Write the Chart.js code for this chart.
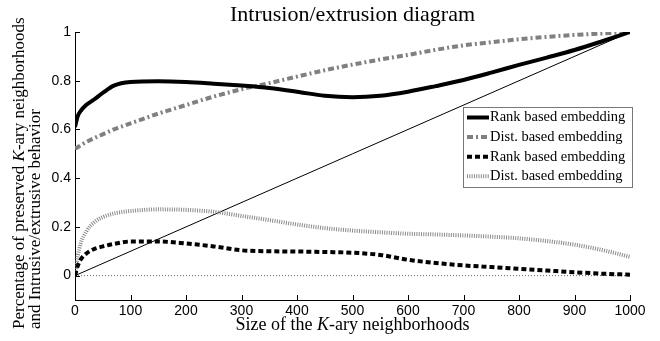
<!DOCTYPE html>
<html>
<head>
<meta charset="utf-8">
<title>Intrusion/extrusion diagram</title>
<script src="https://cdn.jsdelivr.net/npm/chart.js"></script>
<style>
  html, body { margin: 0; padding: 0; background: #fff; }
  #wrap { width: 660px; height: 341px; }
</style>
</head>
<body>
<div id="wrap"><canvas id="chart" width="660" height="341"></canvas></div>
<script>
  const kSizes = [0, 5, 10, 20, 35, 50, 70, 100, 150, 200, 250, 300, 350, 400, 450, 500,
                  550, 600, 650, 700, 750, 800, 850, 900, 950, 1000];
  // preserved neighbourhoods
  const rankPreserved = [0.61, 0.655, 0.675, 0.7, 0.724, 0.75, 0.78, 0.795, 0.798, 0.795, 0.788, 0.78, 0.77,
                         0.755, 0.738, 0.732, 0.738, 0.755, 0.778, 0.803, 0.833, 0.865, 0.895, 0.926, 0.962, 1.0];
  const distPreserved = [0.522, 0.527, 0.535, 0.548, 0.565, 0.58, 0.60, 0.625, 0.665, 0.70, 0.735, 0.765, 0.79,
                         0.817, 0.843, 0.866, 0.887, 0.906, 0.927, 0.945, 0.958, 0.97, 0.98, 0.988, 0.994, 1.0];
  // intrusive/extrusive behaviour
  const rankIntrusive = [0, 0.04, 0.065, 0.09, 0.11, 0.12, 0.13, 0.14, 0.14, 0.132, 0.12, 0.104, 0.1,
                         0.099, 0.097, 0.094, 0.085, 0.065, 0.052, 0.042, 0.035, 0.028, 0.021, 0.014, 0.008, 0.004];
  const distIntrusive = [0, 0.08, 0.13, 0.18, 0.22, 0.24, 0.255, 0.265, 0.272, 0.27, 0.262, 0.245, 0.228,
                         0.21, 0.195, 0.185, 0.178, 0.172, 0.169, 0.165, 0.16, 0.153, 0.142, 0.127, 0.105, 0.077];
  // reference lines: random baseline and zero
  const refX = [0, 1000];
  const diagY = [0, 1];
  const zeroY = [0, 0];

  const xTicks = [0, 100, 200, 300, 400, 500, 600, 700, 800, 900, 1000];
  const yTicks = [0, 0.2, 0.4, 0.6, 0.8, 1];
  const legendLabels = ['Rank based embedding', 'Dist. based embedding', 'Rank based embedding', 'Dist. based embedding'];

  const serif = '"Liberation Serif", "Times New Roman", serif';
  const sans = '"Liberation Sans", Arial, sans-serif';

  function pts(xs, ys) { return xs.map((x, i) => ({ x: x, y: ys[i] })); }

  function line(label, xs, ys, color, width, dash, inLegend) {
    return {
      label: label, data: pts(xs, ys), borderColor: color, backgroundColor: color,
      borderWidth: width, borderDash: dash, pointRadius: 0, fill: false,
      cubicInterpolationMode: 'monotone', inLegend: inLegend
    };
  }

  // text in pieces so that K can be italic
  function richWidth(ctx, parts, size) {
    let w = 0;
    parts.forEach(p => { ctx.font = (p[1] ? 'italic ' : '') + size + 'px ' + serif; w += ctx.measureText(p[0]).width; });
    return w;
  }
  function drawRich(ctx, parts, x, y, size) {
    parts.forEach(p => {
      ctx.font = (p[1] ? 'italic ' : '') + size + 'px ' + serif;
      ctx.fillText(p[0], x, y);
      x += ctx.measureText(p[0]).width;
    });
  }

  const decor = {
    id: 'decor',
    afterDraw(chart) {
      const ctx = chart.ctx, a = chart.chartArea;
      const xs = chart.scales.x, ys = chart.scales.y;
      ctx.save();
      // inward tick marks
      ctx.strokeStyle = '#000'; ctx.lineWidth = 1;
      ctx.beginPath();
      xTicks.forEach(v => { const p = Math.round(xs.getPixelForValue(v)) + 0.5; ctx.moveTo(p, a.bottom); ctx.lineTo(p, a.bottom - 5); });
      yTicks.forEach(v => { const p = Math.round(ys.getPixelForValue(v)) + 0.5; ctx.moveTo(a.left, p); ctx.lineTo(a.left + 5, p); });
      ctx.stroke();

      // axis titles
      ctx.fillStyle = '#000';
      ctx.textBaseline = 'middle';
      ctx.textAlign = 'left';
      const xt = [['Size of the ', false], ['K', true], ['-ary neighborhoods', false]];
      const w = richWidth(ctx, xt, 18);
      drawRich(ctx, xt, (a.left + a.right) / 2 - w / 2, 325, 18);

      ctx.save();
      ctx.translate(20, 329);
      ctx.rotate(-Math.PI / 2);
      drawRich(ctx, [['Percentage of preserved ', false], ['K', true], ['-ary neighborhoods', false]], 0, 0, 17);
      ctx.restore();
      ctx.save();
      ctx.translate(36, 329);
      ctx.rotate(-Math.PI / 2);
      drawRich(ctx, [['and Intrusive/extrusive behavior', false]], 0, 0, 17);
      ctx.restore();

      // legend box
      const bx = a.right - 167, by = 107, bw = 169, bh = 80;
      ctx.fillStyle = '#fff';
      ctx.fillRect(bx, by, bw, bh);
      ctx.strokeStyle = '#777'; ctx.lineWidth = 1;
      ctx.strokeRect(bx + 0.5, by + 0.5, bw, bh);
      const items = chart.data.datasets.filter(d => d.inLegend);
      items.forEach((d, i) => {
        const cy = by + 10.5 + i * 19.6;
        ctx.strokeStyle = d.borderColor; ctx.lineWidth = d.borderWidth;
        ctx.setLineDash(d.borderDash);
        ctx.beginPath(); ctx.moveTo(bx + 4, cy); ctx.lineTo(bx + 26, cy); ctx.stroke();
        ctx.setLineDash([]);
        ctx.fillStyle = '#000';
        ctx.font = '14.5px ' + serif;
        ctx.textBaseline = 'middle';
        ctx.fillText(d.label, bx + 27, cy);
      });
      ctx.restore();
    }
  };

  new Chart(document.getElementById('chart'), {
    type: 'line',
    data: {
      datasets: [
        line(legendLabels[0], kSizes, rankPreserved, '#000', 4, [], true),
        line(legendLabels[1], kSizes, distPreserved, '#808080', 4, [6, 3, 2, 3], true),
        line(legendLabels[2], kSizes, rankIntrusive, '#000', 4, [5, 3], true),
        line(legendLabels[3], kSizes, distIntrusive, '#8a8a8a', 4, [1, 1.3], true),
        line('baseline', refX, diagY, '#000', 1, [], false),
        line('zero', refX, zeroY, '#666', 1, [1, 2], false)
      ]
    },
    options: {
      responsive: false,
      animation: false,
      devicePixelRatio: 1,
      layout: { padding: { left: 0, right: 30, top: 0, bottom: 0 } },
      plugins: {
        legend: { display: false },
        tooltip: { enabled: false },
        title: {
          display: true, fullSize: false, text: 'Intrusion/extrusion diagram', color: '#000',
          font: { family: serif, size: 22, weight: 'normal', lineHeight: 1.2 },
          padding: { top: 2, bottom: 3.6 }
        }
      },
      scales: {
        x: {
          type: 'linear', min: 0, max: 1000,
          afterBuildTicks: s => { s.ticks = xTicks.map(v => ({ value: v })); },
          afterFit: s => { s.height = 41; },
          grid: { display: false, drawTicks: false },
          border: { display: true, color: '#000', width: 1 },
          ticks: { color: '#000', font: { family: sans, size: 14 }, padding: 3, maxRotation: 0, autoSkip: false,
                   callback: v => String(v) }
        },
        y: {
          type: 'linear', min: -0.1, max: 1,
          afterBuildTicks: s => { s.ticks = yTicks.map(v => ({ value: v })); },
          afterFit: s => { s.width = 75; },
          grid: { display: false, drawTicks: false },
          border: { display: true, color: '#000', width: 1 },
          ticks: { color: '#000', font: { family: sans, size: 14 }, padding: 4,
                   callback: v => String(Math.round(v * 10) / 10) }
        }
      }
    },
    plugins: [decor]
  });
</script>
</body>
</html>
